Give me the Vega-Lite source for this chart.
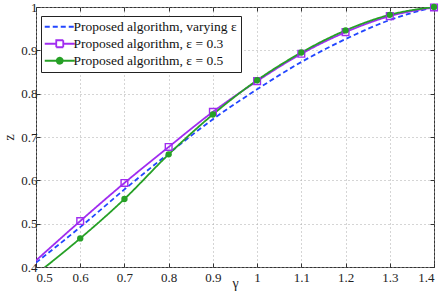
{
  "$schema": "https://vega.github.io/schema/vega-lite/v6.json",
  "width": 398,
  "height": 260,
  "autosize": {"type": "none"},
  "padding": {"left": 36, "top": 7, "right": 9, "bottom": 30},
  "config": {
    "view": {"stroke": "#333", "strokeWidth": 1},
    "font": "Liberation Serif",
    "axis": {
      "labelFont": "Liberation Serif", "labelFontSize": 13, "labelColor": "#222",
      "titleFont": "Liberation Serif", "titleFontSize": 14, "titleFontWeight": "normal", "titleColor": "#222",
      "gridColor": "#aaa", "gridDash": [1, 3], "gridWidth": 1,
      "domain": false, "tickColor": "#333", "tickSize": -4
    },
    "legend": {
      "labelFont": "Liberation Serif", "labelFontSize": 13.5, "labelColor": "#111", "labelLimit": 400
    }
  },
  "data": {"values": [
    {"g": 0.5, "z": 0.410, "s": "Proposed algorithm, varying ε"},
    {"g": 0.6, "z": 0.492, "s": "Proposed algorithm, varying ε"},
    {"g": 0.7, "z": 0.579, "s": "Proposed algorithm, varying ε"},
    {"g": 0.8, "z": 0.662, "s": "Proposed algorithm, varying ε"},
    {"g": 0.9, "z": 0.741, "s": "Proposed algorithm, varying ε"},
    {"g": 1.0, "z": 0.810, "s": "Proposed algorithm, varying ε"},
    {"g": 1.1, "z": 0.873, "s": "Proposed algorithm, varying ε"},
    {"g": 1.2, "z": 0.926, "s": "Proposed algorithm, varying ε"},
    {"g": 1.3, "z": 0.970, "s": "Proposed algorithm, varying ε"},
    {"g": 1.4, "z": 1.000, "s": "Proposed algorithm, varying ε"},
    {"g": 0.5, "z": 0.415, "s": "Proposed algorithm, ε = 0.3"},
    {"g": 0.6, "z": 0.506, "s": "Proposed algorithm, ε = 0.3"},
    {"g": 0.7, "z": 0.594, "s": "Proposed algorithm, ε = 0.3"},
    {"g": 0.8, "z": 0.677, "s": "Proposed algorithm, ε = 0.3"},
    {"g": 0.9, "z": 0.758, "s": "Proposed algorithm, ε = 0.3"},
    {"g": 1.0, "z": 0.829, "s": "Proposed algorithm, ε = 0.3"},
    {"g": 1.1, "z": 0.892, "s": "Proposed algorithm, ε = 0.3"},
    {"g": 1.2, "z": 0.942, "s": "Proposed algorithm, ε = 0.3"},
    {"g": 1.3, "z": 0.979, "s": "Proposed algorithm, ε = 0.3"},
    {"g": 1.4, "z": 0.999, "s": "Proposed algorithm, ε = 0.3"},
    {"g": 0.5, "z": 0.383, "s": "Proposed algorithm, ε = 0.5"},
    {"g": 0.6, "z": 0.466, "s": "Proposed algorithm, ε = 0.5"},
    {"g": 0.7, "z": 0.557, "s": "Proposed algorithm, ε = 0.5"},
    {"g": 0.8, "z": 0.660, "s": "Proposed algorithm, ε = 0.5"},
    {"g": 0.9, "z": 0.752, "s": "Proposed algorithm, ε = 0.5"},
    {"g": 1.0, "z": 0.831, "s": "Proposed algorithm, ε = 0.5"},
    {"g": 1.1, "z": 0.895, "s": "Proposed algorithm, ε = 0.5"},
    {"g": 1.2, "z": 0.946, "s": "Proposed algorithm, ε = 0.5"},
    {"g": 1.3, "z": 0.982, "s": "Proposed algorithm, ε = 0.5"},
    {"g": 1.4, "z": 1.000, "s": "Proposed algorithm, ε = 0.5"}
  ]},
  "resolve": {"axis": {"x": "independent", "y": "independent"}},
  "layer": [
    {
      "mark": {"type": "line", "clip": true, "strokeWidth": 1.8, "interpolate": "monotone"},
      "encoding": {
        "x": {"field": "g", "type": "quantitative",
          "scale": {"domain": [0.5, 1.4], "nice": false, "zero": false},
          "axis": {"title": "γ", "values": [0.5,0.6,0.7,0.8,0.9,1.0,1.1,1.2,1.3,1.4], "format": "~g", "labelPadding": 8, "titleY": 9, "titleBaseline": "top"}},
        "y": {"field": "z", "type": "quantitative",
          "scale": {"domain": [0.4, 1.0], "nice": false, "zero": false},
          "axis": {"title": "z", "values": [0.4,0.5,0.6,0.7,0.8,0.9,1.0], "format": "~g", "labelPadding": 3, "titlePadding": 4}},
        "color": {"field": "s", "type": "nominal",
          "scale": {"domain": ["Proposed algorithm, varying ε", "Proposed algorithm, ε = 0.3", "Proposed algorithm, ε = 0.5"],
                    "range": ["#2246ff", "#a02cf0", "#26a026"]},
          "legend": {
            "title": null, "orient": "none", "legendX": 5, "legendY": 9,
            "strokeColor": "#222", "fillColor": "white", "padding": 4,
            "symbolType": "stroke", "symbolSize": 100, "symbolStrokeWidth": 1.8,
            "symbolOffset": 8, "labelOffset": 7, "rowPadding": 2,
            "encoding": {
              "symbols": {
                "shape": {"value": {"expr": "datum.value == 'Proposed algorithm, varying ε' ? 'M-3,0H3' : (datum.value == 'Proposed algorithm, ε = 0.3' ? 'M-3,0H-0.7M0.7,0H3M-0.7,-0.7H0.7V0.7H-0.7Z' : 'M-3,0H3M0.6,0A0.6,0.6 0 1,1 -0.6,0A0.6,0.6 0 1,1 0.6,0Z')"}},
                "fill": {"value": {"expr": "datum.value == 'Proposed algorithm, ε = 0.5' ? '#26a026' : 'transparent'"}},
                "strokeDash": {"value": {"expr": "datum.value == 'Proposed algorithm, varying ε' ? [5,3] : [1,0]"}}
              }
            }
          }},
        "strokeDash": {"field": "s", "type": "nominal",
          "scale": {"domain": ["Proposed algorithm, varying ε", "Proposed algorithm, ε = 0.3", "Proposed algorithm, ε = 0.5"],
                    "range": [[5,3],[1,0],[1,0]]},
          "legend": null}
      }
    },
    {
      "transform": [{"filter": "datum.s == 'Proposed algorithm, ε = 0.3' && datum.g > 0.55"}],
      "mark": {"type": "point", "shape": "square", "filled": false, "size": 45, "strokeWidth": 1.4, "color": "#a02cf0", "opacity": 1},
      "encoding": {
        "x": {"field": "g", "type": "quantitative",
          "axis": {"orient": "top", "labels": false, "grid": false, "title": null, "values": [0.5,0.6,0.7,0.8,0.9,1.0,1.1,1.2,1.3,1.4]}},
        "y": {"field": "z", "type": "quantitative",
          "axis": {"orient": "right", "labels": false, "grid": false, "title": null, "values": [0.4,0.5,0.6,0.7,0.8,0.9,1.0]}}
      }
    },
    {
      "transform": [{"filter": "datum.s == 'Proposed algorithm, ε = 0.5' && datum.g > 0.55"}],
      "mark": {"type": "point", "shape": "circle", "filled": true, "size": 40, "color": "#26a026", "opacity": 1},
      "encoding": {
        "x": {"field": "g", "type": "quantitative", "axis": null},
        "y": {"field": "z", "type": "quantitative", "axis": null}
      }
    }
  ]
}
